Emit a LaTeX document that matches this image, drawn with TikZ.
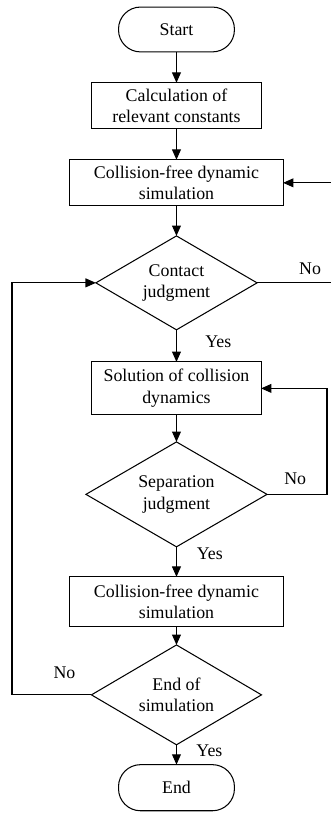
\documentclass[tikz,border=0pt]{standalone}
\usepackage{fontspec}
\setmainfont{Liberation Serif}
\usetikzlibrary{shapes.geometric, arrows.meta, positioning}

\begin{document}
\begin{tikzpicture}[
    node distance = 0.73cm,
    base/.style = {draw, line width=0.7pt, outer sep=0pt, align=center, font=\fontsize{12pt}{14.5pt}\selectfont},
    term/.style = {base, rectangle, minimum width=2.74cm, minimum height=1.06cm, rounded corners=0.52cm},
    proc/.style = {base, rectangle, minimum width=4cm, minimum height=1.09cm, inner sep=1pt},
    wideproc/.style = {proc, minimum width=5.04cm},
    decision/.style = {base, diamond, aspect=2, inner sep=0pt},
    lbl/.style = {inner sep=0pt, font=\fontsize{12pt}{14.5pt}\selectfont},
    flow/.style = {line width=0.7pt, -{Triangle[length=7pt, width=6pt]}}
]
% fixed frame, loop columns
\useasboundingbox (0,0) rectangle (7.825,-19.22);
\coordinate (rt) at (7.95,0);
\coordinate (rs) at (7.73,0);
\coordinate (ls) at (0.284,0);
% main column
\node[term] (start) at (4.172,-0.697) {Start};
\node[proc, below=of start] (consts) {Calculation of\\relevant constants};
\node[wideproc, below=of consts] (free1) {Collision-free dynamic\\simulation};
\node[decision, minimum width=3.81cm, minimum height=2.22cm, below=0.71cm of free1] (contact) {Contact\\judgment};
\node[proc, minimum height=1.25cm, below=0.76cm of contact] (solve) {Solution of collision\\dynamics};
\node[decision, minimum width=4.28cm, minimum height=2.48cm, below=0.64cm of solve] (separate) {Separation\\judgment};
\node[wideproc, minimum height=1.18cm, below=0.71cm of separate] (free2) {Collision-free dynamic\\simulation};
\node[decision, minimum width=4.02cm, minimum height=2.36cm, below=0.43cm of free2] (finish) {End of\\simulation};
\node[term, minimum height=1.09cm, below=0.47cm of finish] (stop) {End};

% straight arrows
\draw[flow] (start) -- (consts);
\draw[flow] (consts) -- (free1);
\draw[flow] (free1) -- (contact);
\draw[flow] (contact) -- node[lbl, pos=0.375, right=0.67cm] {Yes} (solve);
\draw[flow] (solve) -- (separate);
\draw[flow] (separate) -- node[lbl, pos=0.23, right=0.47cm] {Yes} (free2);
\draw[flow] (free2) -- (finish);
\draw[flow] (finish) -- node[lbl, pos=0.3, right=0.46cm] {Yes} (stop);

% loops back
\draw[flow] (contact.east) -- node[lbl, pos=0.67, above=0.17cm] {No} (contact.east -| rt) |- (free1.east);
\draw[flow] (separate.east) -- node[lbl, pos=0.47, above=0.21cm] {No} (separate.east -| rs) |- (solve.east);
\draw[flow] (finish.west) -- node[lbl, pos=0.34, above=0.36cm] {No} (finish.west -| ls) |- (contact.west);
\end{tikzpicture}
\end{document}
